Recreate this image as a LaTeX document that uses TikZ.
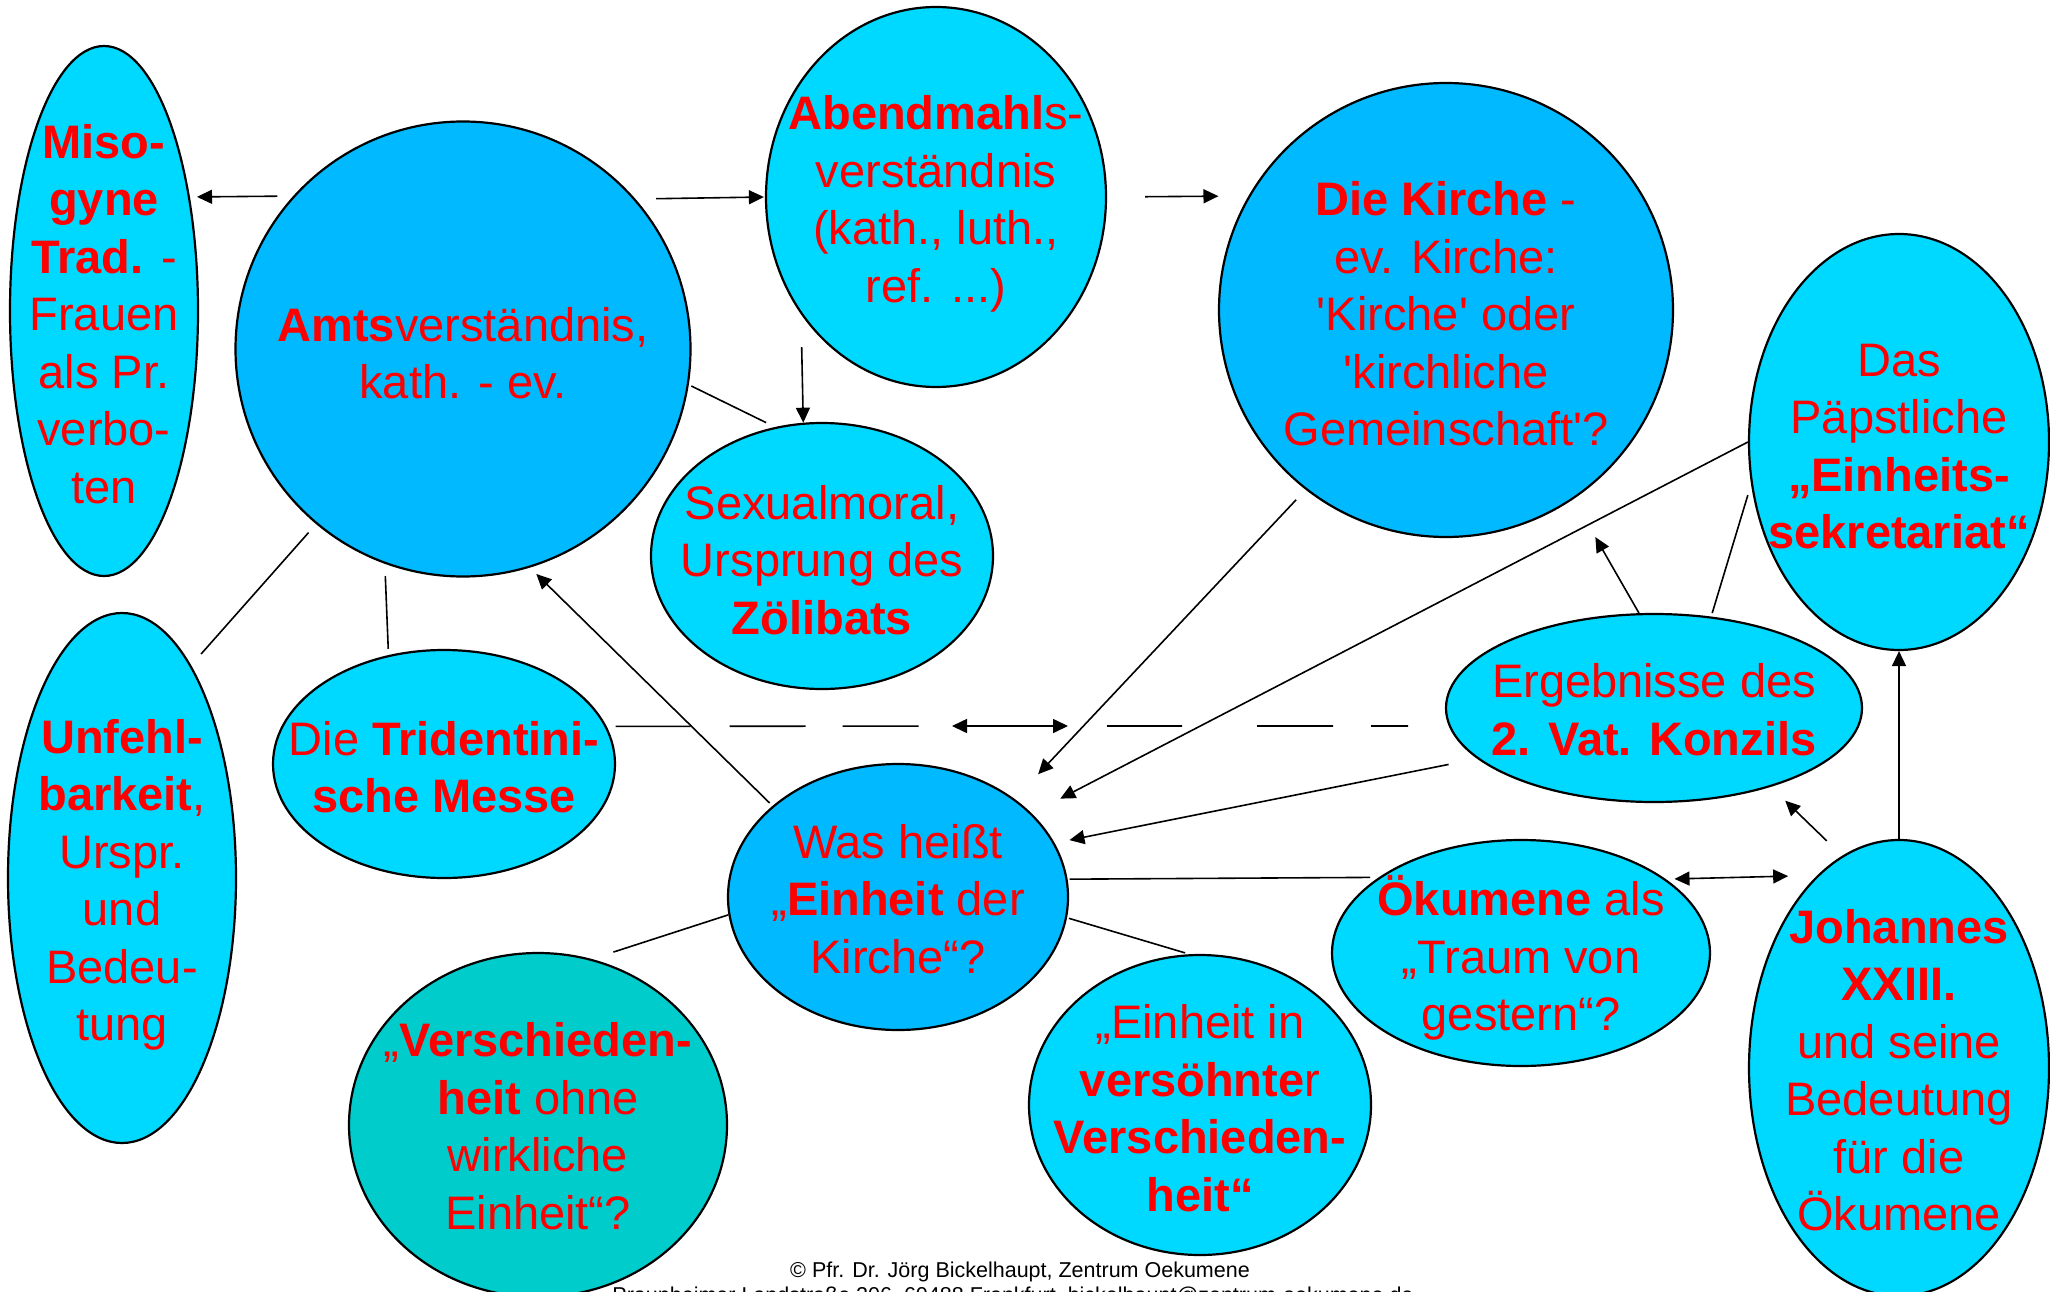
\documentclass[tikz,border=0pt]{standalone}
\usepackage{fontspec}
\setmainfont{Liberation Sans}[Ligatures=TeXOff]
\usetikzlibrary{shapes.geometric,arrows.meta}
\definecolor{cyanL}{RGB}{0,217,255}
\definecolor{blueD}{RGB}{0,185,255}
\definecolor{tealC}{RGB}{0,204,204}
\newcommand\bt[1]{\textbf{#1}}
\tikzset{
  blob/.style={ellipse, draw=black, line width=2.2pt, inner sep=0pt},
  lc/.style={blob, fill=cyanL},
  dc/.style={blob, fill=blueD},
  tc/.style={blob, fill=tealC},
  txt/.style={text=red, align=center, inner sep=0pt, font=\fontsize{47}{57.5}\selectfont},
  ln/.style={line width=1.6pt},
  arr/.style={ln, -{Triangle[length=15pt,width=14pt]}},
  dbl/.style={ln, {Triangle[length=15pt,width=14pt]}-{Triangle[length=15pt,width=14pt]}},
  foot/.style={inner sep=0pt, anchor=base, font=\fontsize{21.5}{26}\selectfont}
}
\begin{document}
\begin{tikzpicture}[x=1pt,y=-1pt]
\fill[white] (0,0) rectangle (2050,1292);
\useasboundingbox (0,0) rectangle (2050,1292);

% ellipses
\node[lc, minimum width=188pt, minimum height=530pt] (mis) at (104,311) {};
\node[dc, minimum width=455pt, minimum height=455pt] (amts) at (463,349) {};
\node[lc, minimum width=340pt, minimum height=380pt] (abend) at (936,197) {};
\node[dc, minimum width=454pt, minimum height=454pt] (kirche) at (1446,310) {};
\node[lc, minimum width=300pt, minimum height=416pt] (paps) at (1899,442) {};
\node[lc, minimum width=342pt, minimum height=266pt] (sex) at (822,556) {};
\node[lc, minimum width=228pt, minimum height=530pt] (unf) at (122,878) {};
\node[lc, minimum width=342pt, minimum height=228pt] (trid) at (444,764) {};
\node[dc, minimum width=340pt, minimum height=266pt] (was) at (898,897) {};
\node[lc, minimum width=416pt, minimum height=188pt] (erg) at (1654,708) {};
\node[lc, minimum width=378pt, minimum height=226pt] (oek) at (1521,953) {};
\node[lc, minimum width=300pt, minimum height=456pt] (joh) at (1899,1068) {};
\node[tc, minimum width=378pt, minimum height=344pt] (versch) at (538,1125) {};
\node[lc, minimum width=342pt, minimum height=300pt] (vers2) at (1200,1105) {};

% texts
\node[txt] (misT) at ([yshift=-3pt]mis) {\bt{Miso-}\\\bt{gyne}\\\bt{Trad.} -\\Frauen\\als Pr.\\verbo-\\ten};
\node[txt] (amtsT) at ([yshift=-4pt]amts) {\bt{Amts}verständnis,\\kath. - ev.};
\node[txt] (abendT) at ([yshift=-7pt]abend) {\bt{Abendmahl}s-\\verständnis\\(kath., luth.,\\ref. ...)};
\node[txt] (kircheT) at ([yshift=-4pt]kirche) {\bt{Die Kirche} -\\ev. Kirche:\\'Kirche' oder\\'kirchliche\\Gemeinschaft'?};
\node[txt] (papsT) at ([yshift=-4.5pt]paps) {Das\\Päpstliche\\\bt{„Einheits-}\\\bt{sekretariat“}};
\node[txt] (sexT) at ([yshift=-4pt]sex) {Sexualmoral,\\Ursprung des\\\bt{Zölibats}};
\node[txt] (unfT) at ([yshift=-7pt]unf) {\bt{Unfehl-}\\\bt{barkeit},\\Urspr.\\und\\Bedeu-\\tung};
\node[txt] (tridT) at ([yshift=-3pt]trid) {Die \bt{Tridentini-}\\\bt{sche Messe}};
\node[txt] (wasT) at ([yshift=-2pt]was) {Was heißt\\„\bt{Einheit} der\\Kirche“?};
\node[txt] (ergT) at ([yshift=-1.5pt]erg) {Ergebnisse des\\\bt{2. Vat. Konzils}};
\node[txt] (oekT) at ([yshift=-5pt]oek) {\bt{Ökumene} als\\„Traum von\\gestern“?};
\node[txt] (johT) at ([yshift=-2pt]joh) {\bt{Johannes}\\\bt{XXIII.}\\und seine\\Bedeutung\\für die\\Ökumene};
\node[txt] (verschT) at ([yshift=-1pt]versch) {„\bt{Verschieden-}\\\bt{heit} ohne\\wirkliche\\Einheit“?};
\node[txt] (vers2T) at ([yshift=-3pt]vers2) {„Einheit in\\\bt{versöhnte}r\\\bt{Verschieden-}\\\bt{heit“}};

% connectors
\draw[arr, shorten <=15.7pt, shorten >=7.1pt] (amts.138.1) -- (mis.53.3);
\draw[arr, shorten <=20.7pt, shorten >=1pt] (amts.41.9) -- (abend.west);
\draw[arr, shorten <=38pt, shorten >=30pt] (abend.east) -- (kirche.150.2);
\draw[arr, shorten <=32.7pt] (abend.221.65) -- (sex.98.2);
\draw[ln, shorten <=2.8pt, shorten >=9.9pt] (amts.-9.3) -- (sex.110.65);
\draw[ln, shorten <=11.3pt, shorten >=15pt] (amts.230.96) -- (unf.72.3);
\draw[ln, shorten <=12.2pt, shorten >=6.3pt] (amts.250.75) -- (trid.117.5);
\draw[arr, shorten <=4pt, shorten >=9.1pt] (was.144.75) -- (amts.287);
\draw[arr, shorten <=13.8pt, shorten >=34.1pt] (kirche.232.07) -- (was.40.65);
\draw[arr, shorten >=32.1pt] (paps.west) -- (was.32.7);
\draw[arr, shorten <=29.1pt, shorten >=15.1pt] (erg.196.06) -- (was.19.99);
\draw[arr, shorten >=43.8pt] (erg.99.1) -- (kirche.304.17);
\draw[ln, shorten <=3.6pt, shorten >=11.2pt] (erg.58.3) -- (paps.196.82);
\draw[arr, shorten <=21.4pt, shorten >=19.9pt] (joh.105.04) -- (erg.326);
\draw[arr] (joh.north) -- (paps.south);
\draw[dbl, shorten <=8.6pt, shorten >=29.1pt] (oek.27.94) -- (joh.113.57);
\draw[ln, shorten <=2pt, shorten >=8.6pt] (was.6.8) -- (oek.152.06);
\draw[ln, shorten >=22.6pt] (was.186.44) -- (versch.72.4);
\draw[ln, shorten <=2pt, shorten >=4.6pt] (was.353.2) -- (vers2.94.8);

% dashed link with double arrow
\coordinate (dl) at (952,726);
\coordinate (dr) at (1068,726);
\draw[ln, shorten <=9pt, dash pattern=on 75pt off 39pt on 76pt off 37pt on 76pt off 500pt] (trid.13.26) -- (dl);
\draw[dbl] (dl) -- (dr);
\draw[ln, shorten <=39pt, dash pattern=on 75pt off 75pt on 76pt off 38pt on 37pt off 500pt] (dr) -- (erg.185.03);

% footer
\node[foot] (foot1) at (1020,1277) {© Pfr. Dr. Jörg Bickelhaupt, Zentrum Oekumene};
\node[foot] (foot2) at (1013,1302) {Praunheimer Landstraße 206, 60488 Frankfurt, bickelhaupt@zentrum-oekumene.de};
\end{tikzpicture}
\end{document}
